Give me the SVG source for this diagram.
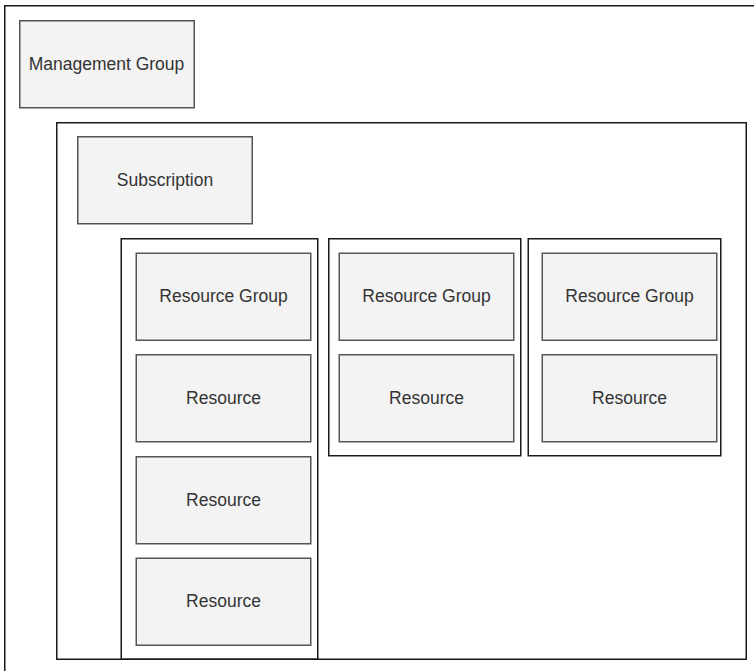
<svg xmlns="http://www.w3.org/2000/svg" width="754" height="671" viewBox="0 0 754 671">
  <style>
    .frame { fill: none; stroke: #1a1a1a; stroke-width: 1.5; }
    .box { fill: #f3f3f3; stroke: #555555; stroke-width: 1.5; }
    .label { font-family: "Liberation Sans", Arial, sans-serif; font-size: 17.5px; fill: #333333; text-anchor: middle; }
  </style>
  <rect width="754" height="671" fill="#ffffff"/>

  <!-- management group container (continues past the canvas edges) -->
  <g id="mg-container">
    <path class="frame" d="M4.75 671 V5.75 H754"/>
  </g>
  <g id="management-group">
    <rect class="box" x="19.75" y="20.75" width="174.5" height="87"/>
    <text class="label" x="106.5" y="70">Management Group</text>
  </g>

  <!-- subscription container -->
  <g id="sub-container">
    <rect class="frame" x="56.75" y="122.75" width="689.5" height="536.5"/>
  </g>
  <g id="subscription">
    <rect class="box" x="77.75" y="136.75" width="174.5" height="87"/>
    <text class="label" x="165" y="186">Subscription</text>
  </g>

  <!-- resource group columns -->
  <g id="rg-column-1">
    <rect class="frame" x="121.25" y="238.75" width="196.5" height="420.5"/>
  </g>
  <g id="rg-column-2">
    <rect class="frame" x="328.75" y="238.75" width="192" height="217"/>
  </g>
  <g id="rg-column-3">
    <rect class="frame" x="528.25" y="238.75" width="192.5" height="217"/>
  </g>

  <!-- column 1 contents -->
  <g id="rg-1">
    <rect class="box" x="136.25" y="253.25" width="174.5" height="87"/>
    <text class="label" x="223.5" y="302">Resource Group</text>
  </g>
  <g id="res-1a">
    <rect class="box" x="136.25" y="354.75" width="174.5" height="87"/>
    <text class="label" x="223.5" y="403.5">Resource</text>
  </g>
  <g id="res-1b">
    <rect class="box" x="136.25" y="456.75" width="174.5" height="87"/>
    <text class="label" x="223.5" y="505.5">Resource</text>
  </g>
  <g id="res-1c">
    <rect class="box" x="136.25" y="558.25" width="174.5" height="87"/>
    <text class="label" x="223.5" y="607">Resource</text>
  </g>

  <!-- column 2 contents -->
  <g id="rg-2">
    <rect class="box" x="339.25" y="253.25" width="174.5" height="87"/>
    <text class="label" x="426.5" y="302">Resource Group</text>
  </g>
  <g id="res-2a">
    <rect class="box" x="339.25" y="354.75" width="174.5" height="87"/>
    <text class="label" x="426.5" y="403.5">Resource</text>
  </g>

  <!-- column 3 contents -->
  <g id="rg-3">
    <rect class="box" x="542.25" y="253.25" width="174.5" height="87"/>
    <text class="label" x="629.5" y="302">Resource Group</text>
  </g>
  <g id="res-3a">
    <rect class="box" x="542.25" y="354.75" width="174.5" height="87"/>
    <text class="label" x="629.5" y="403.5">Resource</text>
  </g>

  <g id="connectors"/>
</svg>
